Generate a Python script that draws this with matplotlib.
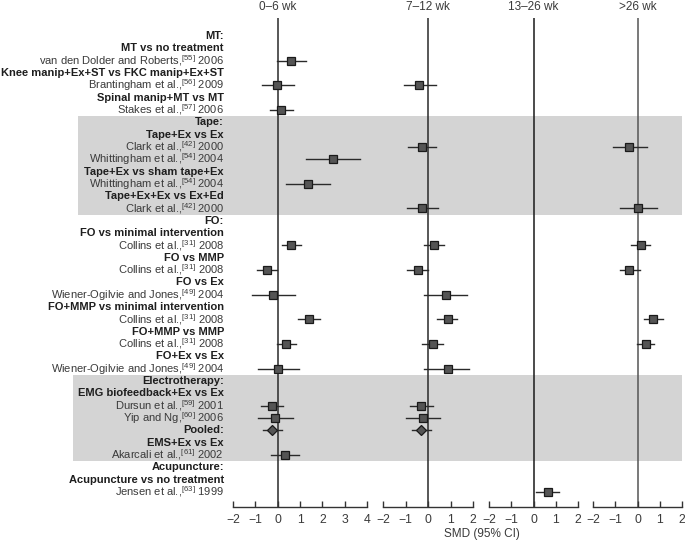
import numpy as np
import matplotlib
matplotlib.use('Agg')
import matplotlib.pyplot as plt

plt.rcParams['font.family'] = ['Liberation Sans', 'DejaVu Sans']
plt.rcParams['mathtext.fontset'] = 'custom'
plt.rcParams['mathtext.rm'] = 'Liberation Sans'

# row labels (top to bottom) and whether they are headers
labels = [
    'MT:', 'MT vs no treatment', r'van den Dolder and Roberts,$^{[55]}$ 2006',
    'Knee manip+Ex+ST vs FKC manip+Ex+ST', r'Brantingham et al.,$^{[56]}$ 2009',
    'Spinal manip+MT vs MT', r'Stakes et al.,$^{[57]}$ 2006',
    'Tape:', 'Tape+Ex vs Ex', r'Clark et al.,$^{[42]}$ 2000',
    r'Whittingham et al.,$^{[54]}$ 2004', 'Tape+Ex vs sham tape+Ex',
    r'Whittingham et al.,$^{[54]}$ 2004', 'Tape+Ex+Ex vs Ex+Ed',
    r'Clark et al.,$^{[42]}$ 2000',
    'FO:', 'FO vs minimal intervention', r'Collins et al.,$^{[31]}$ 2008',
    'FO vs MMP', r'Collins et al.,$^{[31]}$ 2008', 'FO vs Ex',
    r'Wiener-Ogilvie and Jones,$^{[49]}$ 2004', 'FO+MMP vs minimal intervention',
    r'Collins et al.,$^{[31]}$ 2008', 'FO+MMP vs MMP', r'Collins et al.,$^{[31]}$ 2008',
    'FO+Ex vs Ex', r'Wiener-Ogilvie and Jones,$^{[49]}$ 2004',
    'Electrotherapy:', 'EMG biofeedback+Ex vs Ex', r'Dursun et al.,$^{[59]}$ 2001',
    r'Yip and Ng,$^{[60]}$ 2006', 'Pooled:', 'EMS+Ex vs Ex',
    r'Akarcali et al.,$^{[61]}$ 2002',
    'Acupuncture:', 'Acupuncture vs no treatment', r'Jensen et al.,$^{[63]}$ 1999',
]
bold_rows = [0, 1, 3, 5, 7, 8, 11, 13, 15, 16, 18, 20, 22, 24, 26,
             28, 29, 32, 33, 35, 36]
pooled_rows = [32]

# shaded sections (first row, last row)
tape_rows = (7, 14)
electro_rows = (28, 34)

periods = ['0\u20136 wk', '7\u201312 wk', '13\u201326 wk', '>26 wk']

# SMD estimates and 95% CI per follow-up period
p1_rows = [2, 4, 6, 10, 12, 17, 19, 21, 23, 25, 27, 30, 31, 32, 34]
p1_est = [0.58, -0.05, 0.15, 2.48, 1.35, 0.58, -0.49, -0.2, 1.4, 0.39, 0.03, -0.27, -0.12, -0.25, 0.33]
p1_lo = [-0.05, -0.7, -0.36, 1.26, 0.37, 0.18, -0.94, -1.13, 0.89, -0.02, -0.89, -0.76, -0.89, -0.66, -0.3]
p1_hi = [1.25, 0.73, 0.68, 3.7, 2.35, 1.04, -0.02, 0.77, 1.9, 0.82, 0.95, 0.22, 0.67, 0.19, 0.94]

p2_rows = [4, 9, 14, 17, 19, 21, 23, 25, 27, 30, 31, 32]
p2_est = [-0.4, -0.28, -0.25, 0.27, -0.45, 0.79, 0.87, 0.2, 0.87, -0.3, -0.22, -0.3]
p2_lo = [-1.07, -0.89, -0.94, -0.18, -0.94, -0.18, 0.4, -0.25, -0.18, -0.79, -0.96, -0.71]
p2_hi = [0.34, 0.34, 0.46, 0.71, 0.0, 1.74, 1.31, 0.67, 1.83, 0.21, 0.54, 0.13]

p3_rows = [37]
p3_est = [0.64]
p3_lo = [0.13]
p3_hi = [1.15]

p4_rows = [9, 14, 17, 19, 23, 25]
p4_est = [-0.36, 0.04, 0.15, -0.36, 0.69, 0.36]
p4_lo = [-1.1, -0.77, -0.28, -0.8, 0.27, -0.04]
p4_hi = [0.43, 0.88, 0.58, 0.09, 1.15, 0.76]

panels = [
    (p1_rows, p1_est, p1_lo, p1_hi, (-2, 4)),
    (p2_rows, p2_est, p2_lo, p2_hi, (-2, 2)),
    (p3_rows, p3_est, p3_lo, p3_hi, (-2, 2)),
    (p4_rows, p4_est, p4_lo, p4_hi, (-2, 2)),
]

# layout in pixels
W, H = 685, 543
panel_x = [(233, 367), (383, 473), (489, 578), (593, 682)]
y_top, y_bot = 18, 507
row0, row_step = 36, 12.32
ylim = ((y_bot - row0) / row_step, -(row0 - y_top) / row_step)

fig = plt.figure(figsize=(W / 100, H / 100), dpi=100)
bottom = 1 - y_bot / H
height = (y_bot - y_top) / H

# background axes for shading and labels (x in pixels)
bg = fig.add_axes([0, bottom, 1, height])
bg.set_xlim(0, W)
bg.set_ylim(*ylim)
bg.axis('off')
for (r0, r1), left in [(tape_rows, 78), (electro_rows, 73)]:
    bg.fill_between([left, 682], r0 - 0.5, r1 + 0.5, color='#d4d4d4', lw=0, zorder=0)
for i, lab in enumerate(labels):
    isb = i in bold_rows
    bg.text(224, i, lab, ha='right', va='center',
            fontsize=8.0,
            fontweight='bold' if isb else 'normal',
            color='#1e1e1e' if isb else '#3a3a3a')

line_cols = ['#2a2a2a', '#2a2a2a', '#1a1a1a', '#555555']
for k, (rows, est, lo, hi, xl) in enumerate(panels):
    x0, x1 = panel_x[k]
    ax = fig.add_axes([x0 / W, bottom, (x1 - x0) / W, height])
    ax.patch.set_alpha(0)
    ax.set_xlim(*xl)
    ax.set_ylim(*ylim)
    ax.axvline(0, color=line_cols[k], lw=1.1, zorder=1)
    for r, e, l, h in zip(rows, est, lo, hi):
        ax.plot([l, h], [r, r], color='#2a2a2a', lw=1.0, zorder=2)
        if r in pooled_rows:
            ax.plot(e, r, marker='D', ms=5.5, mfc='#555555', mec='#1a1a1a', mew=0.9, zorder=3)
        else:
            ax.plot(e, r, marker='s', ms=5.3, mfc='#555555', mec='#1a1a1a', mew=0.9, zorder=3)
    for s in ['top', 'right', 'left']:
        ax.spines[s].set_visible(False)
    ax.spines['bottom'].set_color('#333333')
    ax.spines['bottom'].set_linewidth(1.0)
    ax.set_yticks([])
    ax.set_xticks(np.arange(xl[0], xl[1] + 1))
    ax.set_xticklabels([str(int(t)).replace('-', '\u2212') for t in np.arange(xl[0], xl[1] + 1)])
    ax.tick_params(axis='x', direction='in', length=4, width=1.0, color='#333333',
                   labelsize=8.8, labelcolor='#3a3a3a', pad=5)
    fig.text((x0 + (0 - xl[0]) / (xl[1] - xl[0]) * (x1 - x0)) / W, 1 - 7 / H,
             periods[k], ha='center', va='center', fontsize=8.5, color='#3a3a3a')

fig.text(482 / W, 1 - 534 / H, 'SMD (95% CI)', ha='center', va='center',
         fontsize=8.5, color='#3a3a3a')

plt.savefig('out.png', dpi=100)
plt.close()
